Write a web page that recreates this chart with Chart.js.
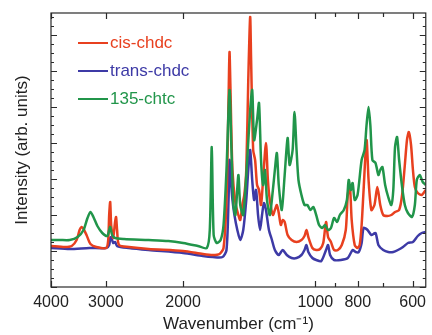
<!DOCTYPE html>
<html>
<head>
<meta charset="utf-8">
<script src="https://cdn.jsdelivr.net/npm/chart.js@4"></script>
<style>
  html, body { margin: 0; padding: 0; background: #fff; }
  #wrap { width: 432px; height: 335px; }
</style>
</head>
<body>
<div id="wrap"><canvas id="irChart"></canvas></div>
<script>
// wavenumber (cm-1) / intensity (arb. units)
const cisWn = [4000, 3721, 3588, 3497, 3443, 3407, 3372, 3320, 3252, 3153, 2994, 2963, 2948, 2932, 2917, 2887, 2858, 2843, 2828, 2799, 2657, 2397, 2000, 1803, 1712, 1652, 1618, 1593, 1576, 1568, 1560, 1544, 1520, 1497, 1482, 1466, 1451, 1436, 1421, 1407, 1400, 1385, 1371, 1357, 1343, 1329, 1315, 1295, 1282, 1269, 1249, 1236, 1223, 1211, 1198, 1186, 1174, 1156, 1132, 1103, 1075, 1058, 1047, 1037, 1015, 995, 975, 959, 945, 935, 921, 906, 888, 870, 852, 843, 834, 826, 813, 801, 792, 784, 776, 764, 756, 745, 733, 722, 711, 700, 685, 671, 658, 644, 634, 625, 618, 612, 605, 599, 593, 584, 572, 560];
const cisInt = [41, 40, 41, 47, 57, 60, 58, 52, 43, 40, 39, 47, 72, 85, 62, 49, 65, 70, 57, 42, 40, 38, 36, 33, 32, 33, 39, 87, 187, 235, 197, 117, 84, 72, 67, 82, 92, 117, 207, 270, 227, 137, 127, 102, 97, 82, 107, 144, 107, 87, 72, 77, 82, 74, 62, 67, 65, 52, 47, 45, 47, 51, 57, 50, 39, 37, 38, 44, 65, 50, 45, 37, 37, 42, 57, 92, 102, 67, 42, 39, 42, 62, 97, 147, 107, 77, 82, 100, 82, 72, 71, 72, 75, 77, 92, 122, 147, 155, 142, 117, 100, 94, 92, 97];

const transWn = [4000, 3625, 3269, 2994, 2948, 2932, 2917, 2887, 2858, 2828, 2657, 2397, 2000, 1803, 1712, 1626, 1593, 1576, 1568, 1560, 1544, 1528, 1505, 1482, 1459, 1436, 1421, 1407, 1392, 1378, 1364, 1350, 1336, 1322, 1309, 1295, 1275, 1255, 1236, 1211, 1186, 1161, 1132, 1103, 1075, 1058, 1047, 1037, 1015, 995, 969, 945, 935, 925, 906, 874, 843, 822, 809, 796, 784, 776, 760, 745, 729, 718, 700, 682, 664, 648, 631, 615, 599, 584, 572, 560];
const transInt = [39, 38, 39, 39, 42, 49, 50, 44, 45, 41, 39, 37, 34, 31, 30, 30, 37, 87, 127, 112, 87, 72, 57, 47, 57, 87, 117, 137, 107, 87, 97, 72, 57, 72, 84, 77, 57, 47, 37, 32, 37, 32, 29, 29, 32, 37, 42, 35, 29, 27, 26, 37, 42, 32, 27, 27, 29, 37, 35, 35, 44, 59, 57, 52, 54, 42, 37, 35, 35, 37, 40, 44, 45, 51, 54, 55];

const chtcWn = [4000, 3818, 3625, 3478, 3372, 3303, 3252, 3202, 3136, 3056, 2978, 2948, 2932, 2902, 2858, 2727, 2397, 2161, 2000, 1851, 1766, 1739, 1721, 1704, 1677, 1643, 1618, 1593, 1568, 1552, 1536, 1520, 1497, 1482, 1459, 1429, 1407, 1392, 1378, 1357, 1343, 1329, 1315, 1302, 1288, 1269, 1249, 1236, 1223, 1211, 1192, 1174, 1156, 1144, 1126, 1115, 1103, 1092, 1075, 1058, 1042, 1026, 1010, 995, 980, 964, 950, 935, 921, 906, 892, 879, 861, 847, 839, 830, 822, 813, 801, 784, 772, 764, 756, 749, 741, 729, 718, 711, 703, 693, 682, 671, 664, 658, 651, 644, 634, 625, 615, 602, 593, 587, 578, 569, 560];
const chtcInt = [47, 47, 47, 50, 57, 69, 75, 70, 61, 54, 51, 57, 60, 52, 49, 48, 47, 46, 44, 41, 39, 57, 140, 52, 44, 47, 62, 117, 197, 137, 82, 72, 112, 82, 72, 127, 177, 197, 147, 167, 184, 127, 102, 117, 87, 72, 97, 117, 134, 102, 77, 112, 149, 122, 137, 175, 137, 107, 92, 82, 82, 77, 80, 72, 62, 59, 62, 57, 59, 69, 65, 72, 77, 87, 107, 97, 104, 87, 92, 127, 137, 162, 180, 162, 127, 124, 112, 117, 120, 102, 90, 82, 97, 140, 150, 127, 100, 82, 74, 70, 82, 107, 112, 105, 102];

const seriesNames = ['cis-chdc', 'trans-chdc', '135-chtc'];
const seriesColors = ['#e8401f', '#3d3aa6', '#21954a'];

// x axis: ticks at these wavenumbers, labels only on some
const tickValues = [4000, 3000, 2000, 1000, 900, 800, 700, 600];
const tickLabels = [4000, 3000, 2000, 1000, 800, 600];

const toPoints = (wn, vals) => wn.map((w, i) => ({ x: w, y: vals[i] }));

const boxTicks = {
    id: 'boxTicks',
    afterDatasetsDraw(chart) {
        const { ctx, chartArea: a, scales: { x, y } } = chart;
        ctx.save();
        ctx.strokeStyle = '#2a2a2a';
        ctx.lineWidth = 1.2;
        ctx.strokeRect(a.left, a.top, a.right - a.left, a.bottom - a.top);
        ctx.beginPath();
        tickValues.forEach(v => {
            const px = Math.round(x.getPixelForValue(v)) + 0.5;
            const len = tickLabels.includes(v) ? 6 : 4;
            ctx.moveTo(px, a.bottom); ctx.lineTo(px, a.bottom - len);
            ctx.moveTo(px, a.top); ctx.lineTo(px, a.top + len);
        });
        for (let v = 0; v <= y.max; v += 9) {
            const py = Math.round(y.getPixelForValue(v)) + 0.5;
            const len = v % 36 === 0 ? 6 : 3;
            ctx.moveTo(a.left, py); ctx.lineTo(a.left + len, py);
            ctx.moveTo(a.right, py); ctx.lineTo(a.right - len, py);
        }
        ctx.stroke();
        ctx.restore();
    }
};

const insideLegend = {
    id: 'insideLegend',
    afterDraw(chart) {
        const { ctx } = chart;
        ctx.save();
        ctx.font = '17px "Liberation Sans", Arial, sans-serif';
        ctx.textBaseline = 'middle';
        chart.data.datasets.forEach((ds, i) => {
            const yy = 43 + i * 28;
            ctx.strokeStyle = ds.borderColor;
            ctx.lineWidth = 2;
            ctx.beginPath();
            ctx.moveTo(78, yy);
            ctx.lineTo(108, yy);
            ctx.stroke();
            ctx.fillStyle = ds.borderColor;
            ctx.fillText(ds.label, 110, yy);
        });
        ctx.restore();
    }
};

const ctx = document.getElementById('irChart').getContext('2d');
new Chart(ctx, {
    type: 'line',
    data: {
        datasets: [{
            label: seriesNames[0],
            data: toPoints(cisWn, cisInt),
            borderColor: seriesColors[0],
            borderWidth: 2.5,
            order: 2
        }, {
            label: seriesNames[1],
            data: toPoints(transWn, transInt),
            borderColor: seriesColors[1],
            borderWidth: 2.5,
            order: 3
        }, {
            label: seriesNames[2],
            data: toPoints(chtcWn, chtcInt),
            borderColor: seriesColors[2],
            borderWidth: 2.5,
            order: 1
        }]
    },
    options: {
        responsive: true,
        maintainAspectRatio: false,
        animation: false,
        layout: { padding: { top: 13, right: 1, left: 0, bottom: 0 } },
        elements: {
            point: { radius: 0 },
            line: { tension: 0.25, fill: false }
        },
        scales: {
            x: {
                type: 'logarithmic',
                reverse: true,
                min: 560,
                max: 4000,
                afterBuildTicks: s => { s.ticks = tickValues.map(v => ({ value: v })); },
                afterFit: s => { s.height = 48; },
                grid: { display: false, drawTicks: false },
                border: { display: false },
                ticks: {
                    autoSkip: false,
                    maxRotation: 0,
                    padding: 6,
                    color: '#222',
                    font: { family: '"Liberation Sans", Arial, sans-serif', size: 16 },
                    callback: v => tickLabels.includes(v) ? String(v) : ''
                },
                title: {
                    display: true,
                    text: 'Wavenumber (cm⁻¹)',
                    color: '#222',
                    padding: { top: 0, bottom: 0 },
                    font: { family: '"Liberation Sans", Arial, sans-serif', size: 17 }
                }
            },
            y: {
                min: 0,
                max: 274,
                afterFit: s => { s.width = 51; },
                grid: { display: false, drawTicks: false },
                border: { display: false },
                ticks: { display: false },
                title: {
                    display: true,
                    text: 'Intensity (arb. units)',
                    color: '#222',
                    padding: { top: 12, bottom: 0 },
                    font: { family: '"Liberation Sans", Arial, sans-serif', size: 17 }
                }
            }
        },
        plugins: {
            legend: { display: false },
            tooltip: { enabled: false }
        }
    },
    plugins: [boxTicks, insideLegend]
});
</script>
</body>
</html>
